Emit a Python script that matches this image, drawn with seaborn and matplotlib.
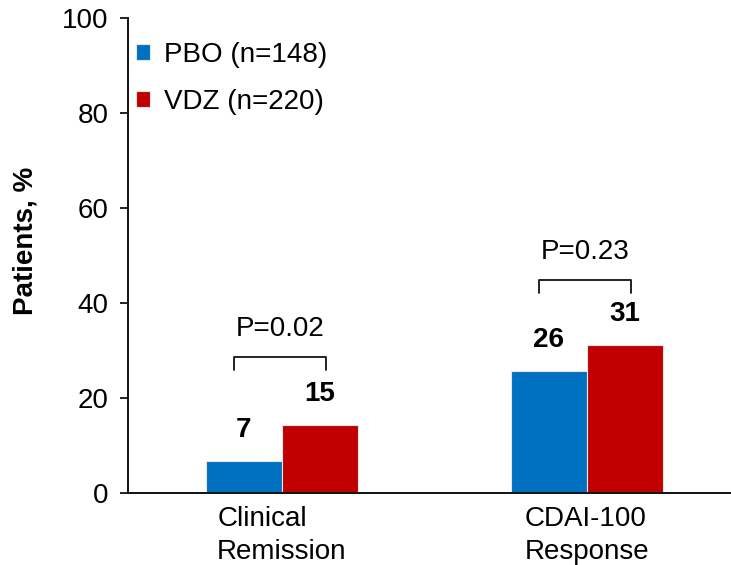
import pandas as pd
import seaborn as sns
import matplotlib.pyplot as plt

sns.set_style("ticks")
plt.rcParams['font.family'] = ['Liberation Sans', 'DejaVu Sans']
plt.rcParams['text.color'] = 'black'
plt.rcParams['axes.labelcolor'] = 'black'
plt.rcParams['xtick.color'] = 'black'
plt.rcParams['ytick.color'] = 'black'

# Datos
categories = ['Clinical\nRemission', 'CDAI-100\nResponse']
groups = ['PBO (n=148)', 'VDZ (n=220)']
pbo_values = [6.7, 25.7]
vdz_values = [14.4, 31.2]
pbo_labels = ['7', '26']
vdz_labels = ['15', '31']
p_values = ['P=0.02', 'P=0.23']
bracket_tops = [28.6, 44.8]
colors = ['#0070C0', '#C00000']

FS = 20

df = pd.DataFrame({
    'Endpoint': categories * 2,
    'Group': [groups[0]] * 2 + [groups[1]] * 2,
    'Patients': pbo_values + vdz_values,
})

fig = plt.figure(figsize=(7.31, 5.65), dpi=100)
ax = fig.add_axes([0.175, 0.1274, 0.825, 0.8407])
sns.barplot(data=df, x='Endpoint', y='Patients', hue='Group', hue_order=groups,
            palette=colors, saturation=1, width=0.5, edgecolor='#e6e6e6',
            linewidth=0.8, errorbar=None, ax=ax)

# Etiquetas sobre las barras
for container, labels in zip(ax.containers, [pbo_labels, vdz_labels]):
    for bar, lab in zip(container, labels):
        ax.text(bar.get_x() + bar.get_width() / 2, bar.get_height() + 6.5, lab,
                ha='center', va='center', fontsize=FS, fontweight='bold')

# Corchetes con valor P
for i, (top, p) in enumerate(zip(bracket_tops, p_values)):
    x0, x1 = i - 0.157, i + 0.143
    ax.plot([x0, x0, x1, x1], [top - 2.7, top, top, top - 2.7],
            color='#111111', lw=1.3, clip_on=False)
    ax.text(i - 0.005, top + 6, p, ha='center', va='center', fontsize=FS)

ax.set_ylim(0, 100)
ax.set_xlim(-0.505, 1.472)
ax.set_yticks(range(0, 101, 20))
ax.tick_params(axis='y', length=6, width=1.3, labelsize=FS, pad=8, color='#111111')
ax.tick_params(axis='x', length=0, labelsize=FS, pad=9)
for t in ax.get_xticklabels():
    t.set_multialignment('left')
    t.set_linespacing(1.35)

sns.despine(ax=ax)
for side in ['left', 'bottom']:
    ax.spines[side].set_color('#111111')
    ax.spines[side].set_linewidth(1.4)

ax.set_xlabel('')
ax.set_ylabel('Patients, %', fontsize=FS, fontweight='bold')
ax.yaxis.set_label_coords(-0.148, 0.53)

handles, labels = ax.get_legend_handles_labels()
ax.legend(handles, labels, loc='upper left', bbox_to_anchor=(0.013, 0.95),
          frameon=False, fontsize=FS, handlelength=0.5, handleheight=0.5,
          handletextpad=0.5, labelspacing=0.77, borderpad=0, borderaxespad=0)

fig.savefig('out.png', dpi=100)
plt.close()
